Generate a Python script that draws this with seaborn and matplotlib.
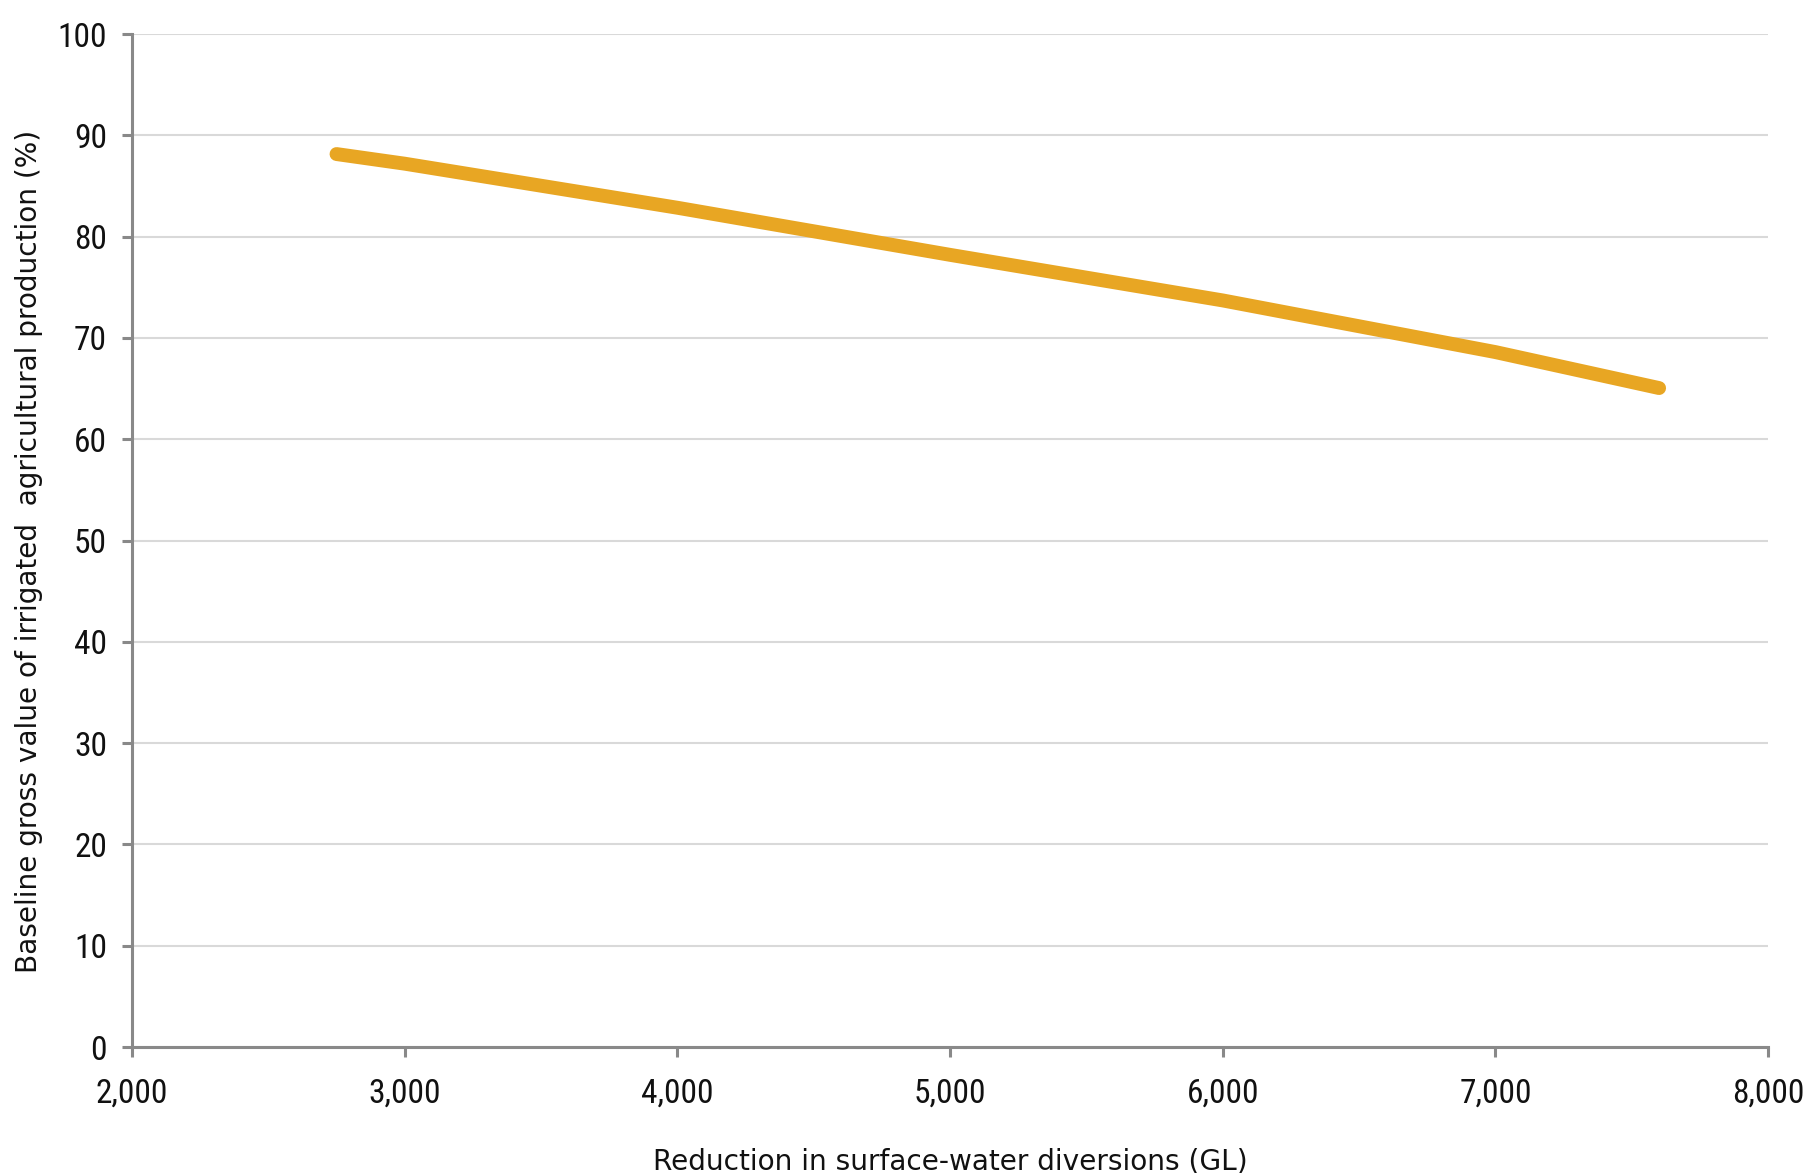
import matplotlib
matplotlib.use("Agg")
import matplotlib.pyplot as plt
import seaborn as sns
import pandas as pd
from matplotlib import font_manager
from matplotlib.ticker import FuncFormatter

reduction_gl = [2750, 3000, 4000, 5000, 6000, 7000, 7600]
gross_value_pct = [88.15, 87.2, 82.85, 78.2, 73.7, 68.6, 65.05]

x_label = "Reduction in surface-water diversions (GL)"
y_label = "Baseline gross value of irrigated  agricultural production (%)"

sns.set_theme(style="white")

# pick a narrow / condensed face deterministically if one is installed
names = sorted({f.name for f in font_manager.fontManager.ttflist})
preferred = ['Liberation Sans Narrow', 'Roboto Condensed', 'Noto Sans SemiCondensed',
             'Noto Sans Condensed', 'Open Sans Condensed', 'Open Sans SemiCondensed',
             'DejaVu Sans Condensed']
narrow = next((n for n in preferred if n in names), None)
if narrow is None:
    narrow = next((n for n in names if 'SemiCondensed' in n), None)
if narrow is None:
    narrow = next((n for n in names if ('Condensed' in n or 'Narrow' in n) and 'Extra' not in n), None)

fams = ([narrow] if narrow else []) + ['DejaVu Sans']
plt.rcParams['font.family'] = fams
plt.rcParams['font.weight'] = 'normal'

df = pd.DataFrame({"x": reduction_gl, "y": gross_value_pct})

fig = plt.figure(figsize=(18.18, 11.73), dpi=100)
ax = fig.add_axes([0.0726, 0.1074, 0.9, 0.8636])

sns.lineplot(data=df, x="x", y="y", ax=ax, color="#E8A623", linewidth=10,
             solid_capstyle="round", solid_joinstyle="round", zorder=3)

ax.set_xlim(2000, 8000)
ax.set_ylim(0, 100)
ax.set_xticks(range(2000, 8001, 1000))
ax.set_yticks(range(0, 101, 10))
ax.xaxis.set_major_formatter(FuncFormatter(lambda v, p: f"{int(v):,}"))

ax.yaxis.grid(True, color="#d9d9d9", linewidth=1.5)
ax.xaxis.grid(False)
ax.set_axisbelow(True)

for s in ["top", "right"]:
    ax.spines[s].set_visible(False)
for s in ["left", "bottom"]:
    ax.spines[s].set_color("#898989")
    ax.spines[s].set_linewidth(2.2)

tick_size = 24 if narrow else 19
ax.tick_params(axis="both", which="major", direction="out", length=7, width=2.2,
               color="#898989", labelsize=tick_size, labelcolor="#111111")
ax.tick_params(axis="x", pad=15)
ax.tick_params(axis="y", pad=11)
ax.tick_params(left=True, bottom=True)

lab_font = {"family": ["DejaVu Sans"], "size": 20.2, "color": "#111111"}
ax.set_xlabel(x_label, fontdict=lab_font, labelpad=27)
ax.set_ylabel(y_label, fontdict=lab_font)
ax.yaxis.set_label_coords(-0.0544, 0.4896)

fig.savefig("out.png", dpi=100, facecolor="white")
